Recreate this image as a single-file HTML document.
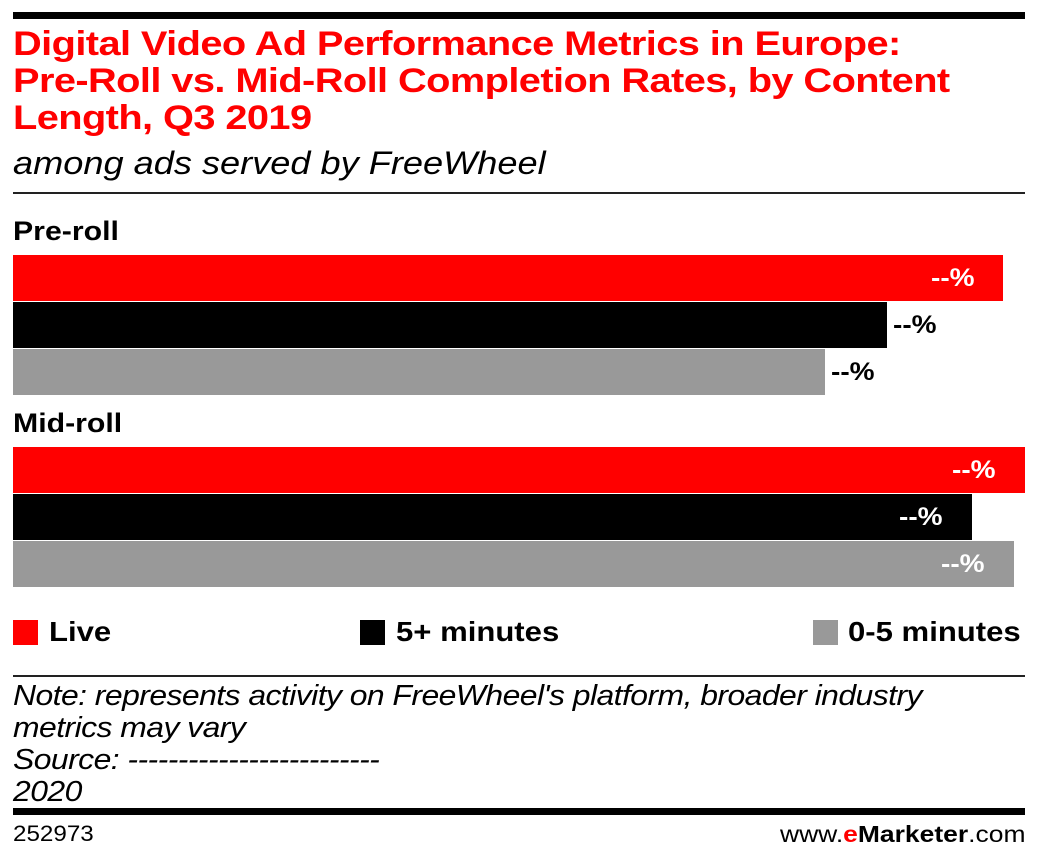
<!DOCTYPE html>
<html><head><meta charset="utf-8"><style>
body{margin:0;width:1038px;height:862px;background:#fff;position:relative;font-family:"Liberation Sans",sans-serif;overflow:hidden}
.a{position:absolute;white-space:nowrap;transform-origin:0 0}
.t{color:#f00;font-weight:bold;font-size:34px;left:13px;letter-spacing:-0.5px;transform:scaleX(1.17)}
.bar{position:absolute;left:13px;height:46px}
.v{position:absolute;font-weight:bold;font-size:25px;line-height:46px;transform:scaleX(1.12);transform-origin:0 0}
.n{font-style:italic;font-size:29px;left:13px;letter-spacing:-0.5px;transform:scaleX(1.1)}
.lg{font-weight:bold;font-size:28px;top:616px;transform:scaleX(1.11)}
.sq{position:absolute;top:620px;width:25px;height:25px}
</style></head><body>
<div class="a" style="left:13px;top:12px;width:1012px;height:7px;background:#000"></div>
<div class="a t" style="top:25px">Digital Video Ad Performance Metrics in Europe:</div>
<div class="a t" style="top:62px">Pre-Roll vs. Mid-Roll Completion Rates, by Content</div>
<div class="a t" style="top:99px">Length, Q3 2019</div>
<div class="a" style="left:13px;top:145px;font-style:italic;font-size:32px;transform:scaleX(1.13)">among ads served by FreeWheel</div>
<div class="a" style="left:13px;top:192px;width:1012px;height:2px;background:#222"></div>
<div class="a" style="left:13px;top:216px;font-weight:bold;font-size:27px;transform:scaleX(1.12)">Pre-roll</div>
<div class="bar" style="top:255px;width:990px;background:#f00"></div>
<div class="bar" style="top:302px;width:874px;background:#000"></div>
<div class="bar" style="top:349px;width:812px;background:#999"></div>
<div class="v" style="top:255px;left:931px;color:#fff">--%</div>
<div class="v" style="top:302px;left:893px;color:#000">--%</div>
<div class="v" style="top:349px;left:831px;color:#000">--%</div>
<div class="a" style="left:13px;top:408px;font-weight:bold;font-size:27px;transform:scaleX(1.12)">Mid-roll</div>
<div class="bar" style="top:447px;width:1012px;background:#f00"></div>
<div class="bar" style="top:494px;width:959px;background:#000"></div>
<div class="bar" style="top:541px;width:1001px;background:#999"></div>
<div class="v" style="top:447px;left:952px;color:#fff">--%</div>
<div class="v" style="top:494px;left:899px;color:#fff">--%</div>
<div class="v" style="top:541px;left:941px;color:#fff">--%</div>
<div class="sq" style="left:13px;background:#f00"></div>
<div class="a lg" style="left:49px">Live</div>
<div class="sq" style="left:360px;background:#000"></div>
<div class="a lg" style="left:396px">5+ minutes</div>
<div class="sq" style="left:813px;background:#999"></div>
<div class="a lg" style="left:848px">0-5 minutes</div>
<div class="a" style="left:13px;top:675px;width:1012px;height:2px;background:#222"></div>
<div class="a n" style="top:680px">Note: represents activity on FreeWheel's platform, broader industry</div>
<div class="a n" style="top:712px">metrics may vary</div>
<div class="a n" style="top:744px">Source: -------------------------</div>
<div class="a n" style="top:776px">2020</div>
<div class="a" style="left:13px;top:808px;width:1012px;height:7px;background:#000"></div>
<div class="a" style="left:13px;top:821px;font-size:22px;transform:scaleX(1.1)">252973</div>
<div class="a" style="right:13px;top:821px;font-size:23px;transform:scaleX(1.15);transform-origin:100% 0">www.<b style="color:#f00">e</b><b>Marketer</b>.com</div>
</body></html>
